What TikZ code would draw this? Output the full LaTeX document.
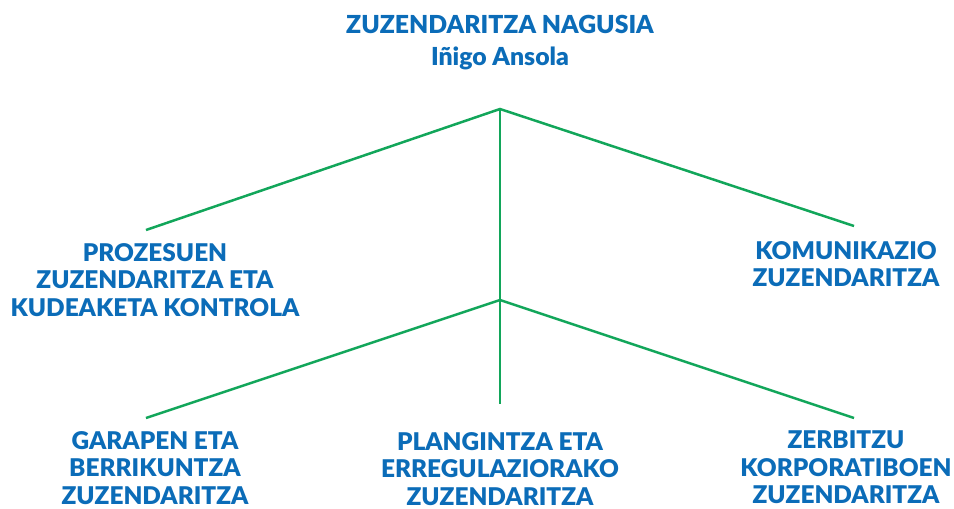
\documentclass[tikz,border=0pt]{standalone}
\usepackage{fontspec}
\setmainfont{Lato}[BoldFont={Lato Black}]
\definecolor{orgblue}{HTML}{0B6CB8}
\definecolor{orggreen}{HTML}{12A65A}
\begin{document}
\begin{tikzpicture}[x=1pt,y=-1pt,
    branch/.style={orggreen,line width=2.5pt},
    unit/.style={orgblue,font=\bfseries\fontsize{24.4}{27.5}\selectfont,align=center,anchor=north,inner sep=0pt}]
    \useasboundingbox (0,0) rectangle (954,509);

    % Coordinates of the hubs and the line ends
    \coordinate (top) at (500,109);
    \coordinate (hub) at (500,300);
    \coordinate (foot) at (500,404);
    \coordinate (ul) at (146,230);
    \coordinate (ur) at (854,226);
    \coordinate (ll) at (146,418);
    \coordinate (lr) at (854,418);

    % The units
    \node[unit,font=\bfseries\fontsize{24.8}{32}\selectfont] (head) at (500,15) {ZUZENDARITZA NAGUSIA\\Iñigo Ansola};
    \node[unit] (proz) at (155,243) {PROZESUEN\\ZUZENDARITZA ETA\\KUDEAKETA KONTROLA};
    \node[unit] (komu) at (846,241) {KOMUNIKAZIO\\ZUZENDARITZA};
    \node[unit] (gara) at (155,431) {GARAPEN ETA\\BERRIKUNTZA\\ZUZENDARITZA};
    \node[unit] (plan) at (500,432) {PLANGINTZA ETA\\ERREGULAZIORAKO\\ZUZENDARITZA};
    \node[unit] (zerb) at (846,431) {ZERBITZU\\KORPORATIBOEN\\ZUZENDARITZA};

    % The branches
    \draw[branch] (ul) -- (top) -- (ur);
    \draw[branch] (top) -- (foot);
    \draw[branch] (ll) -- (hub) -- (lr);
\end{tikzpicture}
\end{document}
